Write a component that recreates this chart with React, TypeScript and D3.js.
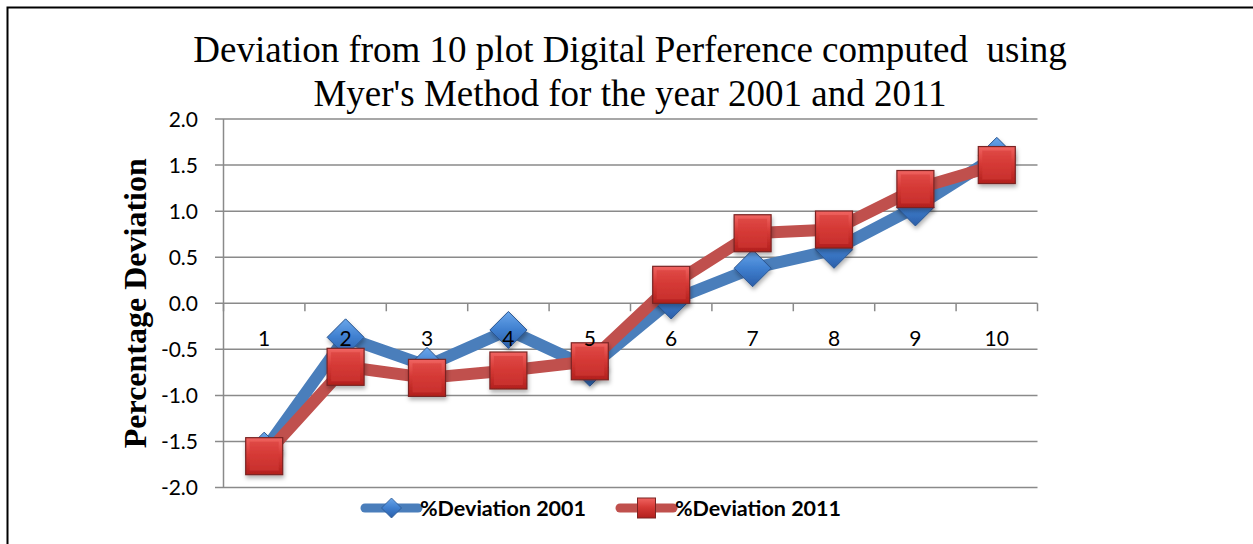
import React, { useEffect, useRef } from 'react';
import * as d3 from 'd3';

const categories = ['1', '2', '3', '4', '5', '6', '7', '8', '9', '10'];
const dev2001 = [-1.6, -0.37, -0.68, -0.29, -0.7, 0.03, 0.38, 0.58, 1.04, 1.6];
const dev2011 = [-1.66, -0.69, -0.81, -0.73, -0.63, 0.2, 0.76, 0.8, 1.24, 1.5];
const yTicks = [2.0, 1.5, 1.0, 0.5, 0.0, -0.5, -1.0, -1.5, -2.0];
const seriesNames = ['%Deviation 2001', '%Deviation 2011'];

const W = 1253;
const H = 544;

const App = () => {
  const ref = useRef<SVGSVGElement | null>(null);

  useEffect(() => {
    document.body.style.margin = '0';
    const svg = d3.select(ref.current);
    svg.selectAll('*').remove();

    const plotLeft = 223.5;
    const plotRight = 1037.5;
    const x = d3.scaleBand<string>().domain(categories).range([plotLeft, plotRight]);
    const y = d3.scaleLinear().domain([-2, 2]).range([487.5, 119]);
    const cx = (c: string) => (x(c) as number) + x.bandwidth() / 2;

    const defs = svg.append('defs');
    const redGrad = defs.append('linearGradient').attr('id', 'redFill').attr('x1', 0).attr('y1', 0).attr('x2', 0).attr('y2', 1);
    redGrad.append('stop').attr('offset', '0%').attr('stop-color', '#f06461');
    redGrad.append('stop').attr('offset', '45%').attr('stop-color', '#d63a36');
    redGrad.append('stop').attr('offset', '100%').attr('stop-color', '#b2201d');
    const blueGrad = defs.append('linearGradient').attr('id', 'blueFill').attr('x1', 0).attr('y1', 0).attr('x2', 0).attr('y2', 1);
    blueGrad.append('stop').attr('offset', '0%').attr('stop-color', '#6aa6ea');
    blueGrad.append('stop').attr('offset', '50%').attr('stop-color', '#3f7fcf');
    blueGrad.append('stop').attr('offset', '100%').attr('stop-color', '#2b5ea8');
    const shadow = defs.append('filter').attr('id', 'shadow').attr('x', '-30%').attr('y', '-30%').attr('width', '160%').attr('height', '160%');
    shadow.append('feDropShadow').attr('dx', 1).attr('dy', 3).attr('stdDeviation', 2).attr('flood-color', '#000').attr('flood-opacity', 0.3);

    // frame (top and left edges)
    svg.append('path').attr('d', `M7.5,${H} V7.5 H${W}`).attr('fill', 'none').attr('stroke', '#000').attr('stroke-width', 2);

    // title
    const title = svg.append('text').attr('text-anchor', 'middle').attr('xml:space', 'preserve')
      .style('white-space', 'pre')
      .style('font-family', '"Liberation Serif", serif').style('font-size', '37px').attr('fill', '#000');
    title.append('tspan').attr('x', 630).attr('y', 62).text('Deviation from 10 plot Digital Perference computed  using');
    title.append('tspan').attr('x', 630).attr('y', 106).text("Myer's Method for the year 2001 and 2011");

    // gridlines + y ticks
    const grid = svg.append('g');
    yTicks.forEach(t => {
      grid.append('line').attr('x1', 215).attr('x2', plotRight).attr('y1', y(t)).attr('y2', y(t))
        .attr('stroke', '#8a8a8a').attr('stroke-width', 1.5);
      grid.append('text').attr('x', 198).attr('y', y(t)).attr('dy', '0.36em').attr('text-anchor', 'end')
        .style('font-family', 'Lato, sans-serif').style('font-size', '21px').attr('fill', '#000')
        .text(d3.format('.1f')(t).replace('\u2212', '-'));
    });
    grid.append('line').attr('x1', plotLeft).attr('x2', plotLeft).attr('y1', y(2)).attr('y2', y(-2))
      .attr('stroke', '#8a8a8a').attr('stroke-width', 1.5);
    // category tick marks on the zero line
    d3.range(categories.length + 1).forEach(i => {
      const xp = plotLeft + i * x.bandwidth();
      grid.append('line').attr('x1', xp).attr('x2', xp).attr('y1', y(0)).attr('y2', y(0) + 8)
        .attr('stroke', '#8a8a8a').attr('stroke-width', 1.5);
    });

    // y axis title
    svg.append('text').attr('transform', `translate(146,${y(0)}) rotate(-90)`).attr('text-anchor', 'middle')
      .style('font-family', '"Liberation Serif", serif').style('font-size', '32px').style('font-weight', 'bold')
      .attr('fill', '#000').text('Percentage Deviation');

    const line = d3.line<number>().x((_, i) => cx(categories[i])).y(d => y(d));
    const half = 18.5;

    // 2001 series
    svg.append('path').datum(dev2001).attr('d', line).attr('fill', 'none')
      .attr('stroke', '#4a7ebb').attr('stroke-width', 12).attr('stroke-linejoin', 'round');
    svg.append('g').selectAll('path').data(dev2001).enter().append('path')
      .attr('d', (d, i) => {
        const px = cx(categories[i]);
        const py = y(d);
        return `M${px},${py - half} L${px + half},${py} L${px},${py + half} L${px - half},${py} Z`;
      })
      .attr('fill', 'url(#blueFill)').attr('stroke', '#2a558f').attr('stroke-width', 1)
      .attr('filter', 'url(#shadow)');

    // 2011 series
    svg.append('path').datum(dev2011).attr('d', line).attr('fill', 'none')
      .attr('stroke', '#c0504d').attr('stroke-width', 12).attr('stroke-linejoin', 'round');
    const sq = svg.append('g').selectAll('g').data(dev2011).enter().append('g')
      .attr('transform', (d, i) => `translate(${cx(categories[i])},${y(d)})`)
      .attr('filter', 'url(#shadow)');
    sq.append('rect').attr('x', -half).attr('y', -half).attr('width', half * 2).attr('height', half * 2)
      .attr('fill', 'url(#redFill)').attr('stroke', '#7a2422').attr('stroke-width', 1.2);
    sq.append('rect').attr('x', -half + 4).attr('y', -half + 4).attr('width', half * 2 - 8).attr('height', half * 2 - 8)
      .attr('fill', '#d63a36').attr('opacity', 0.55);

    // category labels
    svg.append('g').selectAll('text').data(categories).enter().append('text')
      .attr('x', d => cx(d)).attr('y', 346).attr('text-anchor', 'middle')
      .style('font-family', 'Lato, sans-serif').style('font-size', '21px').attr('fill', '#000')
      .text(d => d);

    // legend
    const legend = svg.append('g').style('font-family', 'Lato, sans-serif').style('font-size', '21.5px')
      .style('font-weight', 'bold');
    const legX = [365, 620];
    seriesNames.forEach((name, i) => {
      const lx = legX[i];
      const ly = 508;
      legend.append('line').attr('x1', lx).attr('x2', lx + 53).attr('y1', ly).attr('y2', ly)
        .attr('stroke', i === 0 ? '#4a7ebb' : '#c0504d').attr('stroke-width', 9).attr('stroke-linecap', 'round');
      if (i === 0) {
        const h = 10;
        legend.append('path').attr('d', `M${lx + 26.5},${ly - h} L${lx + 26.5 + h},${ly} L${lx + 26.5},${ly + h} L${lx + 26.5 - h},${ly} Z`)
          .attr('fill', 'url(#blueFill)').attr('stroke', '#2a558f').attr('stroke-width', 0.8);
      } else {
        legend.append('rect').attr('x', lx + 26.5 - 9).attr('y', ly - 10).attr('width', 18).attr('height', 20)
          .attr('fill', 'url(#redFill)').attr('stroke', '#7a2422').attr('stroke-width', 1);
      }
      legend.append('text').attr('x', lx + 55).attr('y', ly).attr('dy', '0.36em').attr('fill', '#000').text(name);
    });
  }, []);

  return <svg ref={ref} width={W} height={H} style={{ display: 'block', background: '#fff' }} />;
};

export default App;
